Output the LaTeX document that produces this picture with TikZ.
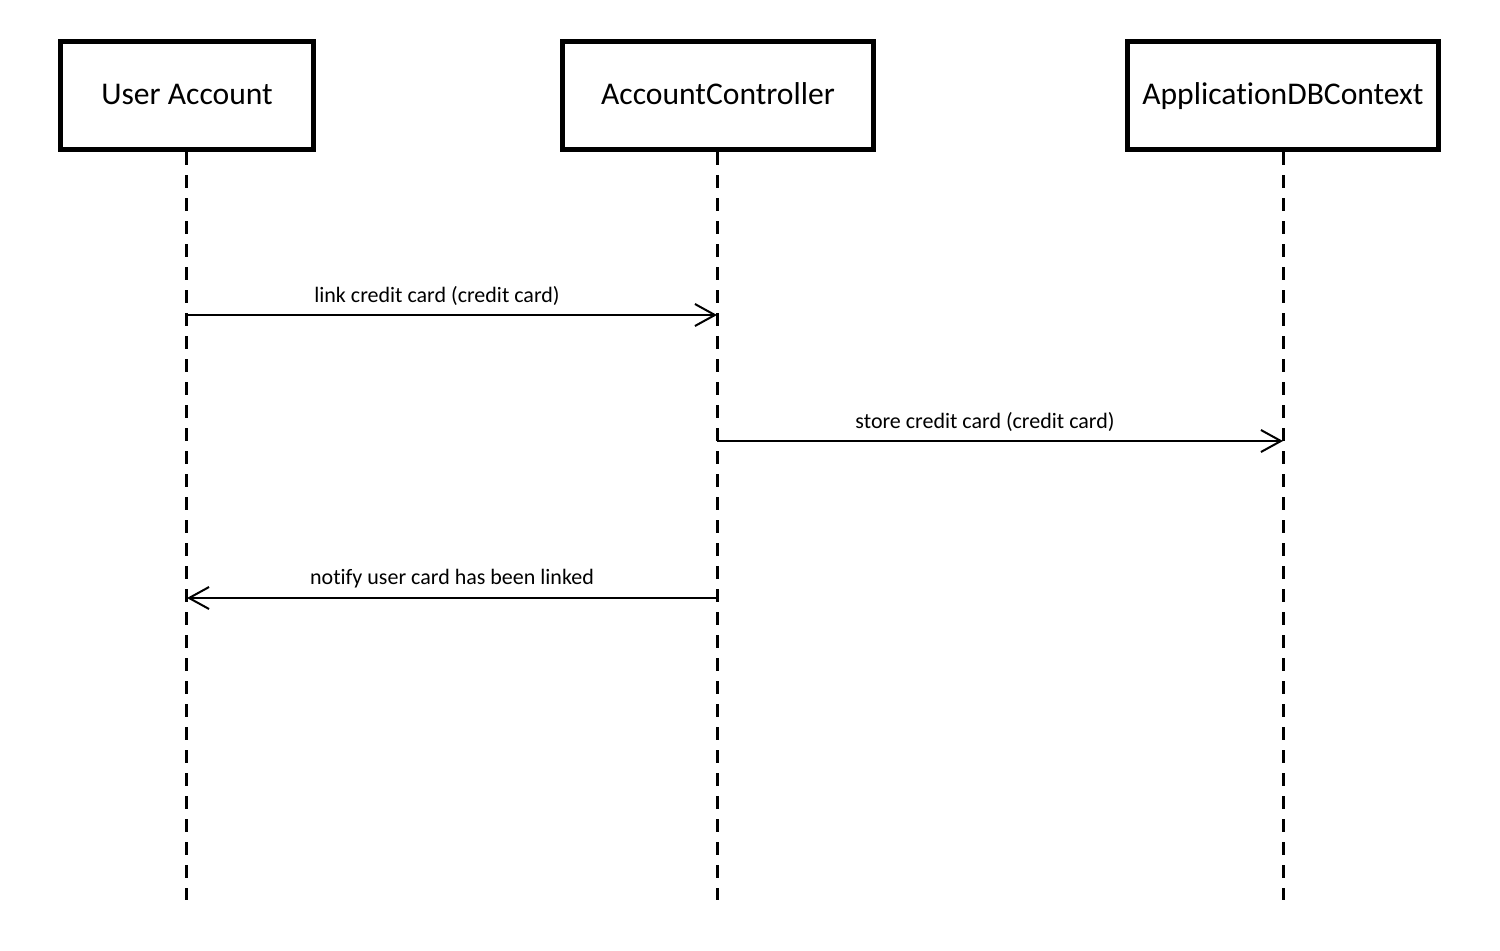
\documentclass[tikz,border=0pt]{standalone}
\usepackage{fontspec}
\setmainfont{Carlito}[Ligatures=NoCommon]
\usetikzlibrary{arrows.meta}
\tikzset{
  actor/.style={draw=black, line width=2.8pt, fill=white, inner sep=0pt,
    minimum height=54pt, text height=1.12em, text depth=0.22em,
    font=\fontsize{15.8}{18}\selectfont},
  lifeline/.style={line width=1.5pt, dash pattern=on 6.5pt off 5pt},
  msg/.style={line width=1pt, -{Straight Barb[length=10pt,width=11pt,line width=1pt]}},
  msglabel/.style={font=\fontsize{11}{13}\selectfont, inner sep=0pt}
}
\begin{document}
\begin{tikzpicture}[x=0.5pt,y=-0.5pt]
\useasboundingbox (0,0) rectangle (1500,950);
\node[actor, minimum width=126.5pt] (ua) at (187,95.5) {User Account};
\node[actor, minimum width=155.5pt] (ac) at (718,95.5) {AccountController};
\node[actor, minimum width=155.5pt] (db) at (1283,95.5) {ApplicationDBContext};
\coordinate (uaend) at (186,900);
\coordinate (acend) at (717,900);
\coordinate (dbend) at (1283,900);
\draw[lifeline] (ua.south -| uaend) -- (uaend);
\draw[lifeline] (ac.south -| acend) -- (acend);
\draw[lifeline] (db.south -| dbend) -- (dbend);
\coordinate (ua1) at (186,315);
\coordinate (ac1) at (717,315);
\coordinate (ac2) at (717,441);
\coordinate (db2) at (1283,441);
\coordinate (ac3) at (717,598);
\coordinate (ua3) at (187,598);
\draw[msg] (ua1) -- (ac1);
\draw[msg] (ac2) -- (db2);
\draw[msg] (ac3) -- (ua3);
\node[msglabel] (l1) at (437,296) {link credit card (credit card)};
\node[msglabel] (l2) at (985,422) {store credit card (credit card)};
\node[msglabel] (l3) at (452,579) {notify user card has been linked};
\end{tikzpicture}
\end{document}
